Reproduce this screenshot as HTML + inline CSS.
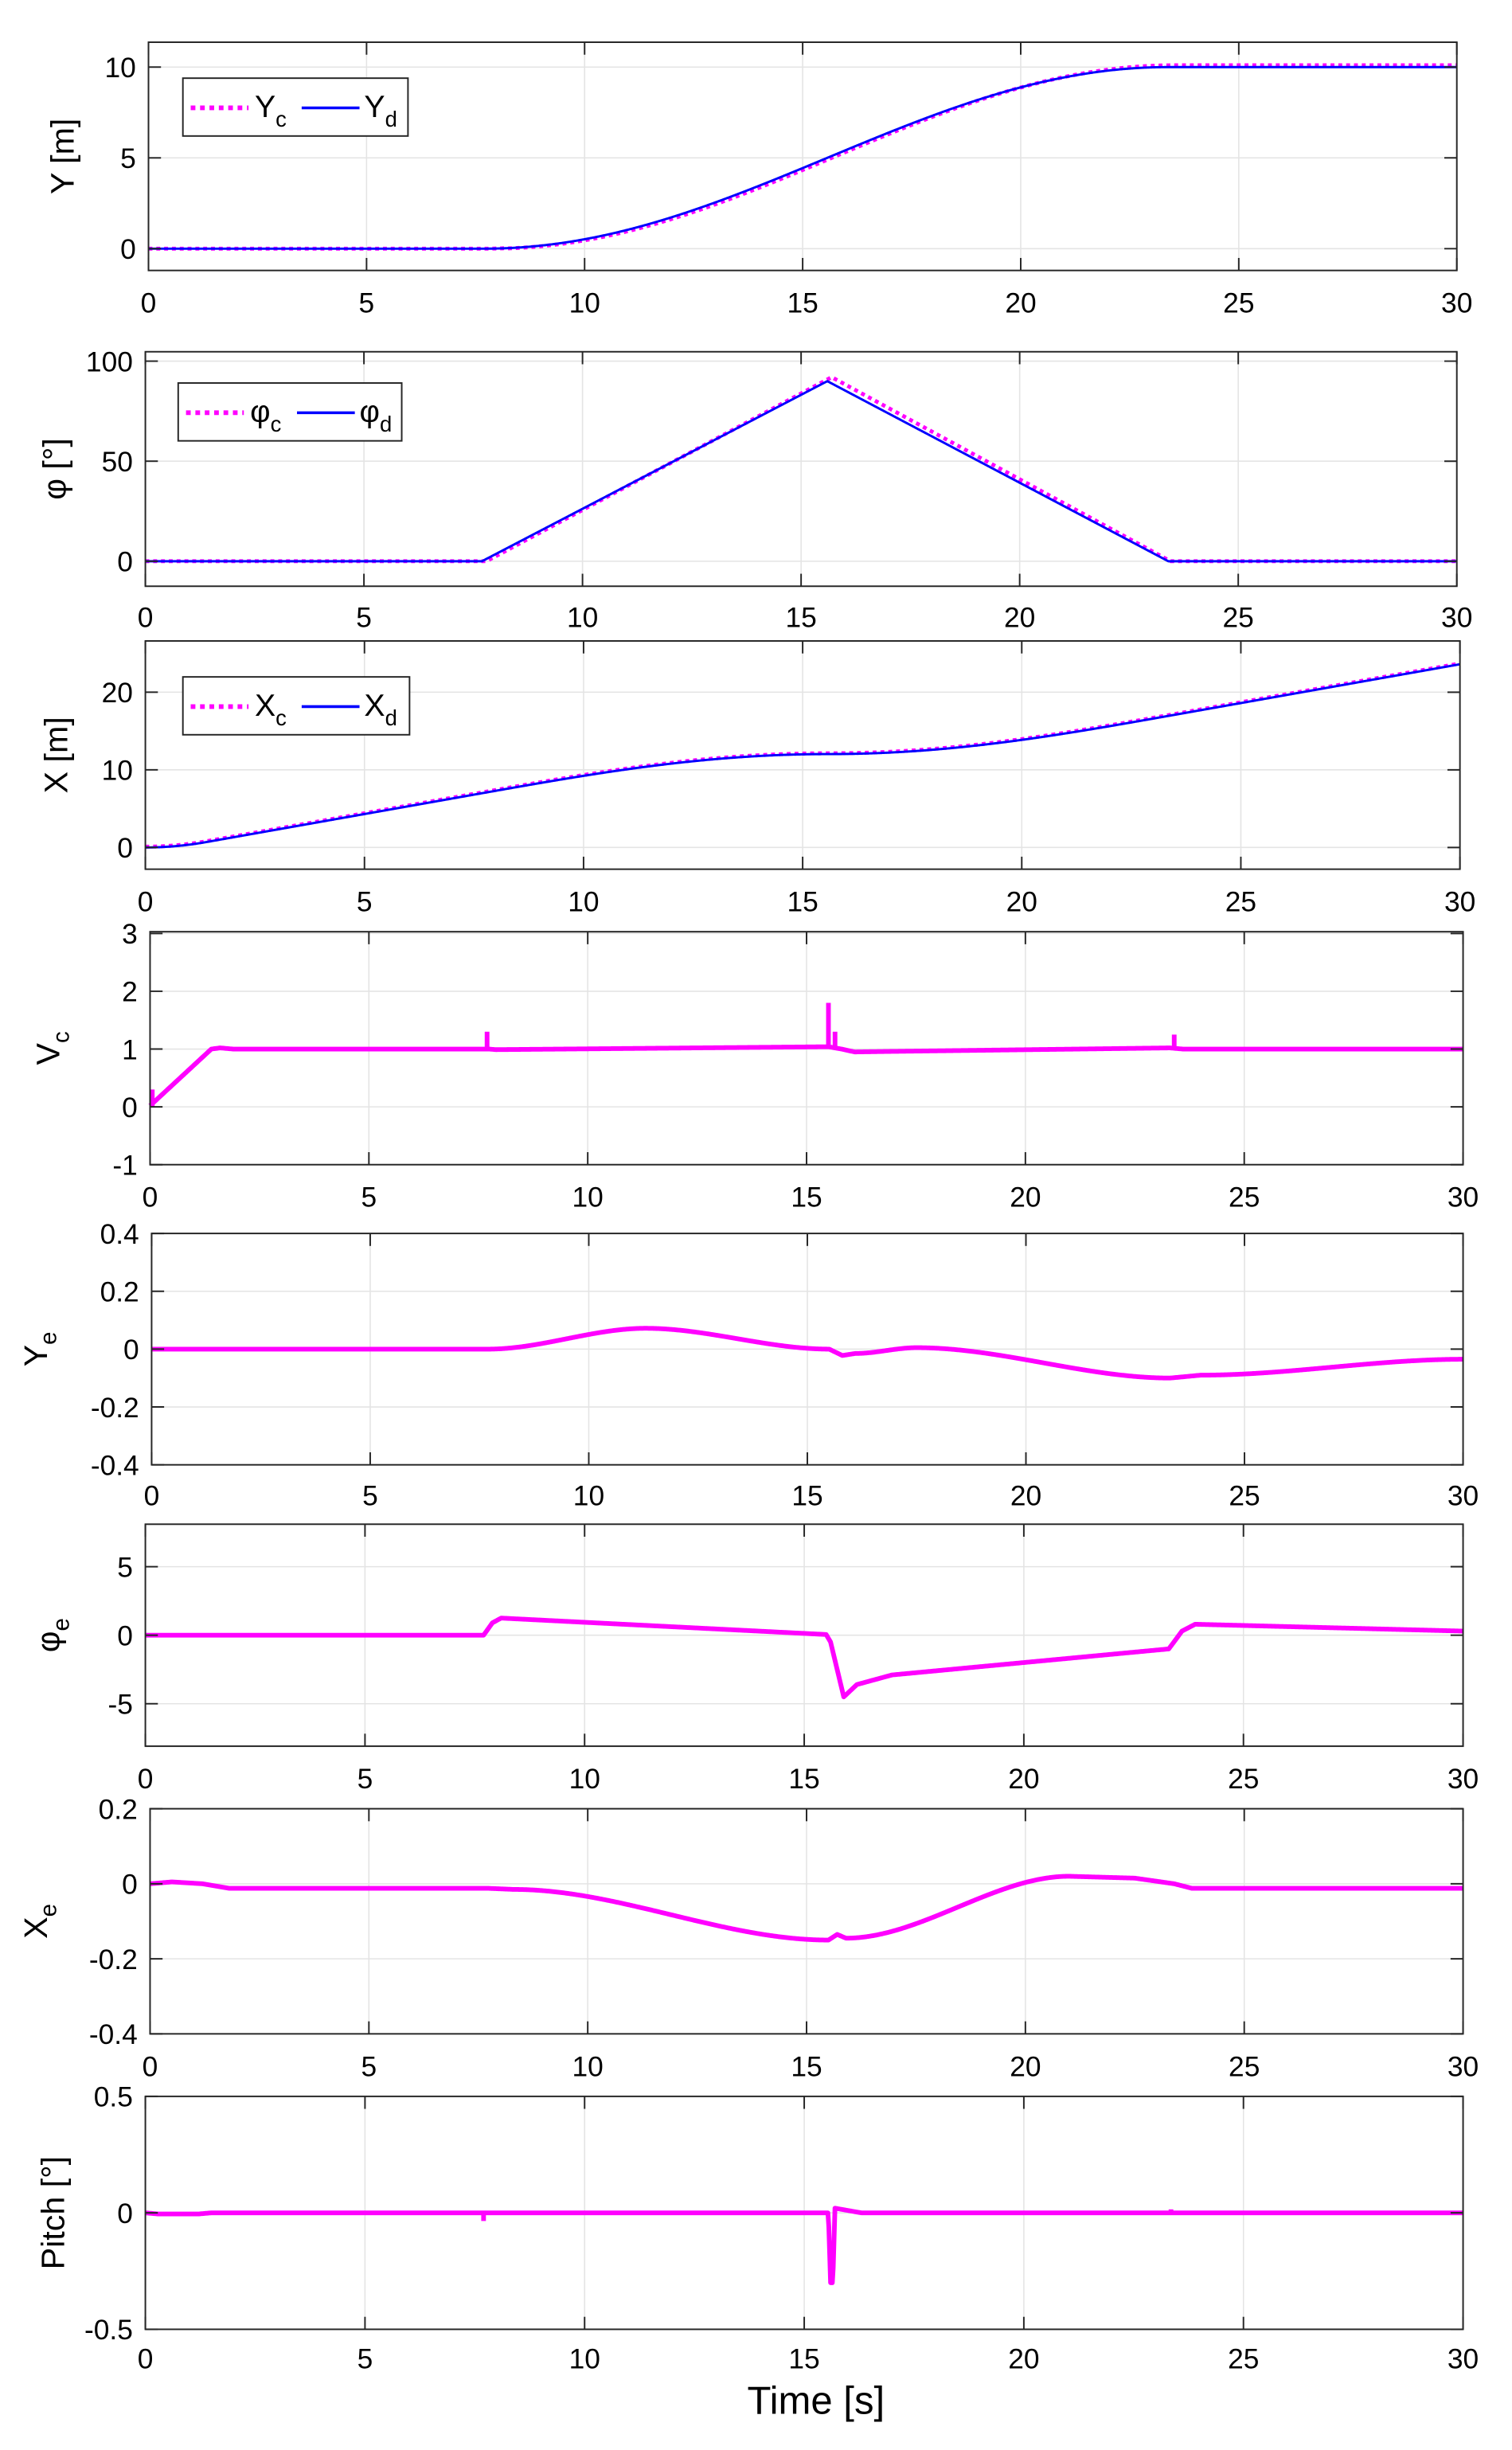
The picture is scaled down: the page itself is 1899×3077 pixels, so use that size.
<!DOCTYPE html>
<html><head><meta charset="utf-8"><style>
html,body{margin:0;padding:0;background:#fff}
svg{display:block}
text{font-family:"Liberation Sans",Arial,sans-serif;fill:#000}
</style></head><body>
<svg id="s" width="1899" height="3077" viewBox="0 0 967.3 1567.2" preserveAspectRatio="none" xmlns="http://www.w3.org/2000/svg"></svg>
<script>
const S=document.getElementById('s');let out='';
function lerpPts(pts,t){if(t<=pts[0][0])return pts[0][1];for(let i=1;i<pts.length;i++){if(t<=pts[i][0]){const a=pts[i-1],b=pts[i];const u=(t-a[0])/(b[0]-a[0]);const s=u*u*(3-2*u);return a[1]+(b[1]-a[1])*(b[2]==='s'?s:u);}}return pts[pts.length-1][1];}
function panel(p){
 const {x0,x1,y0,y1,ymin,ymax,yt,xt,lab}=p;
 const X=t=>x0+(x1-x0)*t/30, Y=v=>y1-(y1-y0)*(v-ymin)/(ymax-ymin);
 let g='';
 for(let t=5;t<30;t+=5)g+=`<line x1="${X(t)}" x2="${X(t)}" y1="${y0}" y2="${y1}" stroke="#e4e4e4" stroke-width="0.8"/>`;
 yt.forEach(v=>{if(Y(v)>y0+0.5&&Y(v)<y1-0.5)g+=`<line x1="${x0}" x2="${x1}" y1="${Y(v)}" y2="${Y(v)}" stroke="#e4e4e4" stroke-width="0.8"/>`;});
 out+=g;
 p.series.forEach(s=>{let d='';const n=1500;for(let i=0;i<=n;i++){const t=30*i/n;let v=s.f(t);v=Math.max(ymin,Math.min(ymax,v));d+=(i?'L':'M')+X(t).toFixed(2)+' '+Y(v).toFixed(2);}
  out+=`<path d="${d}" fill="none" stroke="${s.c}" stroke-width="${s.w}" ${s.dash?'stroke-dasharray="'+s.dash+'"':''} stroke-linejoin="round"/>`;
  (s.spikes||[]).forEach(k=>{out+=`<line x1="${X(k[0])}" x2="${X(k[0])}" y1="${Y(k[1])}" y2="${Y(k[2])}" stroke="${s.c}" stroke-width="${s.w}"/>`;});
 });
 let a=`<rect x="${x0}" y="${y0}" width="${x1-x0}" height="${y1-y0}" fill="none" stroke="#262626" stroke-width="1"/>`;
 for(let t=0;t<=30;t+=5){a+=`<line x1="${X(t)}" x2="${X(t)}" y1="${y1}" y2="${y1-8}" stroke="#262626"/><line x1="${X(t)}" x2="${X(t)}" y1="${y0}" y2="${y0+8}" stroke="#262626"/>`;
  a+=`<text x="${X(t)}" y="${xt}" font-size="18" text-anchor="middle">${t}</text>`;}
 yt.forEach(v=>{a+=`<line x1="${x0}" x2="${x0+8}" y1="${Y(v)}" y2="${Y(v)}" stroke="#262626"/><line x1="${x1}" x2="${x1-8}" y1="${Y(v)}" y2="${Y(v)}" stroke="#262626"/>`;
  a+=`<text x="${x0-8}" y="${Y(v)+6.5}" font-size="18" text-anchor="end">${v}</text>`;});
 a+=`<text transform="translate(${lab.x},${(y0+y1)/2}) rotate(-90)" font-size="21" text-anchor="middle">${lab.t}</text>`;
 out+=a;
 if(p.leg){const L=p.leg;out+=`<rect x="${L.x}" y="${L.y}" width="${L.w}" height="37" fill="#fff" stroke="#262626"/>
 <line x1="${L.x+5}" x2="${L.x+42}" y1="${L.y+19}" y2="${L.y+19}" stroke="#f0f" stroke-width="3" stroke-dasharray="3,3"/>
 <text x="${L.x+46}" y="${L.y+25}" font-size="20">${L.a}<tspan font-size="14" dy="6">${L.sa}</tspan></text>
 <line x1="${L.x+76}" x2="${L.x+113}" y1="${L.y+19}" y2="${L.y+19}" stroke="#00f" stroke-width="1.8"/>
 <text x="${L.x+116}" y="${L.y+25}" font-size="20">${L.a}<tspan font-size="14" dy="6">${L.sd}</tspan></text>`;}
}
const dt=0.01,N=3000;const phiD=t=>t<7.7?0:t<15.6?90*(t-7.7)/7.9:t<23.4?90*(23.4-t)/7.8:0;
const vD=t=>t<1.4?t/1.4:1;const XA=[0],YA=[0];
for(let i=1;i<=N;i++){const t=i*dt,ph=phiD(t)*Math.PI/180;XA.push(XA[i-1]+vD(t)*Math.cos(ph)*dt);YA.push(YA[i-1]+vD(t)*Math.sin(ph)*dt);}
const yscale=10/YA[N];
const XD=t=>XA[Math.min(N,Math.round(t/dt))],YD=t=>YA[Math.min(N,Math.round(t/dt))]*yscale;
const M='#ff00ff';
panel({x0:95,x1:932,y0:27,y1:173,ymin:-1.2,ymax:11.37,yt:[0,5,10],xt:200,lab:{x:47,t:'Y [m]'},
 series:[{f:t=>t<8.2?YD(t):YD(t-0.15)*1.01>10.1?10.1:YD(t-0.15)*1.01,c:M,w:2.5,dash:'2.5,2.5'},{f:YD,c:'#00f',w:1.5}],
 leg:{x:117,y:50,w:144,a:'Y',sa:'c',sd:'d'}});
panel({x0:93,x1:932,y0:225,y1:375,ymin:-12.5,ymax:104.7,yt:[0,50,100],xt:401,lab:{x:42,t:'φ [°]'},
 series:[{f:t=>t<7.8?0:t<15.7?92*(t-7.8)/7.9:t<23.45?92*(23.45-t)/7.75:0,c:M,w:2.5,dash:'2.5,2.5'},{f:phiD,c:'#00f',w:1.5}],
 leg:{x:114,y:245,w:143,a:'φ',sa:'c',sd:'d'}});
panel({x0:93,x1:934,y0:410,y1:556,ymin:-2.8,ymax:26.6,yt:[0,10,20],xt:583,lab:{x:43,t:'X [m]'},
 series:[{f:t=>XD(t)+0.1,c:M,w:2.5,dash:'2.5,2.5'},{f:XD,c:'#00f',w:1.5}],
 leg:{x:117,y:433,w:145,a:'X',sa:'c',sd:'d'}});
panel({x0:96,x1:936,y0:596,y1:745,ymin:-1,ymax:3.03,yt:[-1,0,1,2,3],xt:772,lab:{x:38,t:'V<tspan font-size="15" dy="6">c</tspan>'},
 series:[{f:t=>lerpPts([[0,0.02],[1.4,1],[1.6,1.02],[1.9,1.0],[7.7,1.0],[7.75,1.0],[7.9,0.99],[15.5,1.04],[15.8,1.0],[16.1,0.95],[17,0.96],[23.3,1.02],[23.6,1.0],[30,1.0]],t),c:M,w:3,
  spikes:[[0.05,0,0.3],[7.7,1,1.3],[15.5,1.04,1.8],[15.65,1.0,1.3],[23.4,1.0,1.25]]}]});
panel({x0:97,x1:936,y0:789,y1:937,ymin:-0.4,ymax:0.4,yt:[-0.4,-0.2,0,0.2,0.4],xt:963,lab:{x:30,t:'Y<tspan font-size="15" dy="6">e</tspan>'},
 series:[{f:t=>lerpPts([[0,0],[7.7,0],[11.3,0.072,'s'],[15.5,0,'s'],[15.8,-0.022],[16.1,-0.015],[17.5,0.005,'s'],[23.3,-0.1,'s'],[24,-0.09],[30,-0.035,'s']],t),c:M,w:3}]});
panel({x0:93,x1:936,y0:975,y1:1117,ymin:-8.1,ymax:8.1,yt:[-5,0,5],xt:1144,lab:{x:38,t:'φ<tspan font-size="15" dy="6">e</tspan>'},
 series:[{f:t=>lerpPts([[0,0],[7.7,0],[7.9,0.9],[8.1,1.25],[15.5,0.05],[15.6,-0.5],[15.9,-4.5],[16.2,-3.6],[17,-2.9],[23.3,-1],[23.6,0.3],[23.9,0.8],[30,0.3]],t),c:M,w:3}]});
panel({x0:96,x1:936,y0:1157,y1:1301,ymin:-0.4,ymax:0.2,yt:[-0.4,-0.2,0,0.2],xt:1328,lab:{x:30,t:'X<tspan font-size="15" dy="6">e</tspan>'},
 series:[{f:t=>lerpPts([[0,0],[0.5,0.005],[1.2,0],[1.8,-0.012],[7.7,-0.012],[8.3,-0.015],[15.5,-0.15,'s'],[15.7,-0.135],[15.9,-0.145],[21,0.02,'s'],[22.5,0.015],[23.4,0],[23.8,-0.012],[30,-0.012]],t),c:M,w:3}]});
panel({x0:93,x1:936,y0:1341,y1:1490,ymin:-0.5,ymax:0.5,yt:[-0.5,0,0.5],xt:1515,lab:{x:41,t:'Pitch [°]'},
 series:[{f:t=>lerpPts([[0,0],[0.3,-0.005],[1.2,-0.005],[1.5,0],[15.55,0],[15.6,-0.3],[15.65,-0.3],[15.7,0.02],[16,0.01],[16.3,0],[30,0]],t),c:M,w:3,
  spikes:[[7.7,0,-0.035],[23.35,0,0.015]]}]});
out+=`<text x="522" y="1544" font-size="25" text-anchor="middle">Time [s]</text>`;
S.innerHTML=out;
</script>
</body></html>
